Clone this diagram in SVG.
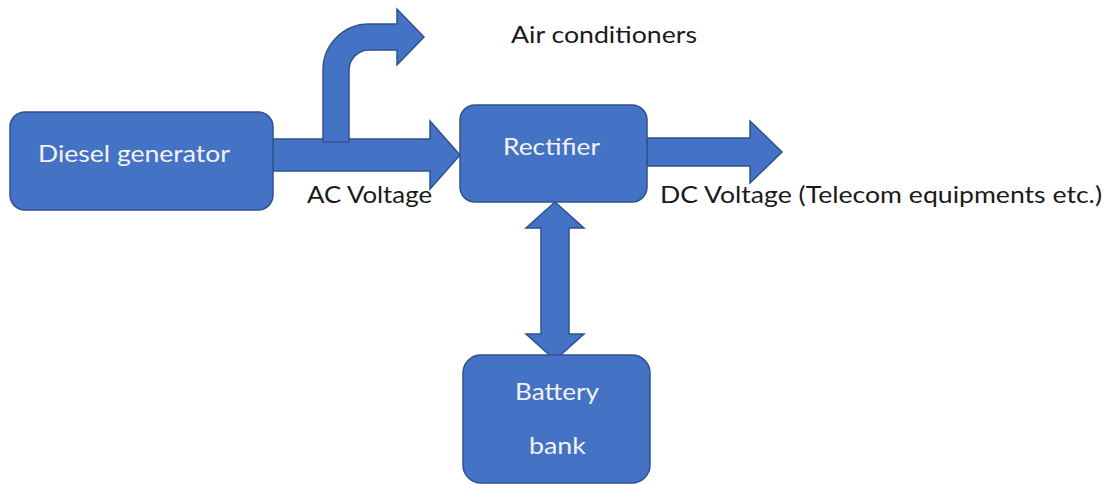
<svg xmlns="http://www.w3.org/2000/svg" width="1113" height="485" viewBox="0 0 1113 485">
<style>
.shape{fill:#4472C4;stroke:#2F528F;stroke-width:1.5;stroke-linejoin:miter}
.in{font-family:Lato,"Open Sans","Liberation Sans",sans-serif;font-size:23px;fill:#F2F2F2;text-anchor:start}
.out{font-family:Lato,"Open Sans","Liberation Sans",sans-serif;font-size:23px;fill:#1a1a1a;text-anchor:start}
</style>
<rect width="1113" height="485" fill="#ffffff"/>
<g id="connectors">
<path class="shape" d="M273,139 L430,139 L430,121 L460,155 L430,189 L430,171 L273,171 Z"/>
<path class="shape" d="M323,142 L323,70 A46,46 0 0 1 369,24 L397,24 L397,9 L424,37 L397,65 L397,50 L369,50 A20,20 0 0 0 349,70 L349,142 Z"/>
<path class="shape" d="M647,138 L750,138 L750,121 L782,152 L750,183 L750,166 L647,166 Z"/>
<path class="shape" d="M555,202 L584,228 L569,228 L569,334 L584,334 L555,360 L526,334 L541,334 L541,228 L526,228 Z"/>
<text class="out" x="307" y="203" textLength="125" lengthAdjust="spacingAndGlyphs">AC Voltage</text>
<text class="out" x="660" y="203" textLength="442" lengthAdjust="spacingAndGlyphs">DC Voltage (Telecom equipments etc.)</text>
<text class="out" x="511" y="43" textLength="186" lengthAdjust="spacingAndGlyphs">Air conditioners</text>
</g>
<g id="diesel-generator">
<rect class="shape" x="10" y="112" width="263" height="98" rx="15"/>
<text class="in" x="38" y="162" textLength="192" lengthAdjust="spacingAndGlyphs">Diesel generator</text>
</g>
<g id="rectifier">
<rect class="shape" x="460" y="105" width="187" height="97" rx="15"/>
<text class="in" x="503" y="155" textLength="97" lengthAdjust="spacingAndGlyphs">Rectifier</text>
</g>
<g id="battery-bank">
<rect class="shape" x="463" y="355" width="187" height="128" rx="18"/>
<text class="in" x="515" y="400" textLength="84" lengthAdjust="spacingAndGlyphs">Battery</text>
<text class="in" x="529" y="454" textLength="57" lengthAdjust="spacingAndGlyphs">bank</text>
</g>
</svg>
